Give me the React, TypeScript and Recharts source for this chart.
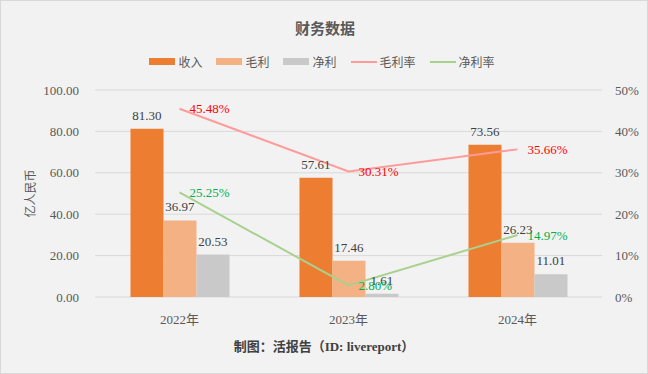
import React from 'react';
import { ComposedChart, Bar, Line, XAxis, YAxis, CartesianGrid, LabelList } from 'recharts';

const categories = ['2022年', '2023年', '2024年'];
const revenue = [81.30, 57.61, 73.56];
const grossProfit = [36.97, 17.46, 26.23];
const netProfit = [20.53, 1.61, 11.01];
const grossMargin = [45.48, 30.31, 35.66];
const netMargin = [25.25, 2.80, 14.97];
const leftTicks = [0, 20, 40, 60, 80, 100];
const rightTicks = [0, 10, 20, 30, 40, 50];

const data = categories.map((c, i) => ({
  name: c,
  revenue: revenue[i],
  gross: grossProfit[i],
  net: netProfit[i],
  gm: grossMargin[i],
  nm: netMargin[i],
}));

const SERIF = '"Liberation Serif", "Noto Sans CJK SC", serif';
const CJK = '"Noto Sans CJK SC", sans-serif';

const legendItems = [
  { label: '收入', color: '#ed7d31', type: 'rect' },
  { label: '毛利', color: '#f4b183', type: 'rect' },
  { label: '净利', color: '#c9c9c9', type: 'rect' },
  { label: '毛利率', color: '#ff9b9b', type: 'line' },
  { label: '净利率', color: '#a9d18e', type: 'line' },
];

const YLabel = (props: any) => {
  const vb = props.viewBox || {};
  const cy = vb.y + vb.height / 2;
  return (
    <text x={29} y={cy} transform={`rotate(-90 29 ${cy})`} textAnchor="middle" dominantBaseline="central"
      fill="#595959" fontSize={12} fontFamily={CJK}>亿人民币</text>
  );
};

export default function App() {
  return (
    <div style={{ position: 'absolute', left: 0, top: 0, width: 648, height: 374, background: '#f2f2f2', border: '1px solid #d9d9d9', boxSizing: 'border-box', overflow: 'hidden' }}>
      <div style={{ position: 'absolute', left: 0, top: 16, width: 648, textAlign: 'center', fontFamily: CJK, fontWeight: 'bold', fontSize: 15, color: '#595959' }}>财务数据</div>
      <div style={{ position: 'absolute', left: 0, top: 52, width: 648, display: 'flex', justifyContent: 'center', fontFamily: CJK, fontSize: 12, color: '#595959', paddingLeft: 8, boxSizing: 'border-box' }}>
        {legendItems.map((it) => (
          <div key={it.label} style={{ display: 'flex', alignItems: 'center', marginRight: 14 }}>
            <span style={{ display: 'inline-block', width: 26, height: it.type === 'rect' ? 7 : 2, background: it.color, marginRight: 3 }} />
            <span>{it.label}</span>
          </div>
        ))}
      </div>
      <div style={{ position: 'absolute', left: 0, top: 335, width: 648, textAlign: 'center', fontFamily: SERIF, fontWeight: 'bold', fontSize: 13, color: '#404040', paddingRight: 2, boxSizing: 'border-box' }}>制图：活报告（ID: livereport）</div>
      <div style={{ position: 'absolute', left: -1, top: -1 }}>
        <ComposedChart width={648} height={374} data={data} margin={{ top: 90, right: 0, left: 0, bottom: 47 }} barCategoryGap="21%" barGap={0}>
          <CartesianGrid vertical={false} stroke="#d9d9d9" yAxisId="left" />
          <XAxis xAxisId="grid" type="number" domain={[0, 3]} ticks={[0, 1, 2, 3]} height={0} tickFormatter={() => ''} tickSize={5} stroke="#d9d9d9" allowDataOverflow />
          <XAxis dataKey="name" axisLine={false} tickLine={false} height={30} tickMargin={12}
            tick={{ fill: '#595959', fontSize: 13, fontFamily: SERIF }} />
          <YAxis yAxisId="left" width={95} domain={[0, 100]} ticks={leftTicks} axisLine={false} tickLine={false} tickSize={6} tickMargin={10}
            tickFormatter={(v: number) => v.toFixed(2)} tick={{ fill: '#595959', fontSize: 13, fontFamily: SERIF }}
            label={<YLabel />} />
          <YAxis yAxisId="right" orientation="right" width={46} domain={[0, 50]} ticks={rightTicks} axisLine={false} tickLine={false} tickSize={6} tickMargin={7}
            tickFormatter={(v: number) => `${v}%`} tick={{ fill: '#595959', fontSize: 13, fontFamily: SERIF }} />
          <Bar yAxisId="left" dataKey="revenue" fill="#ed7d31" isAnimationActive={false}>
            <LabelList dataKey="revenue" position="top" offset={9} formatter={(v: number) => v.toFixed(2)} fill="#404040" fontSize={13} fontFamily={SERIF} />
          </Bar>
          <Bar yAxisId="left" dataKey="gross" fill="#f4b183" isAnimationActive={false}>
            <LabelList dataKey="gross" position="top" offset={9} formatter={(v: number) => v.toFixed(2)} fill="#404040" fontSize={13} fontFamily={SERIF} />
          </Bar>
          <Bar yAxisId="left" dataKey="net" fill="#c9c9c9" isAnimationActive={false}>
            <LabelList dataKey="net" position="top" offset={9} formatter={(v: number) => v.toFixed(2)} fill="#404040" fontSize={13} fontFamily={SERIF} />
          </Bar>
          <Line yAxisId="right" dataKey="gm" stroke="#ff9b9b" strokeWidth={2} dot={false} isAnimationActive={false}>
            <LabelList dataKey="gm" position="right" offset={10} formatter={(v: number) => `${v.toFixed(2)}%`} fill="#ff0000" fontSize={13} fontFamily={SERIF} />
          </Line>
          <Line yAxisId="right" dataKey="nm" stroke="#a9d18e" strokeWidth={2} dot={false} isAnimationActive={false}>
            <LabelList dataKey="nm" position="right" offset={10} formatter={(v: number) => `${v.toFixed(2)}%`} fill="#00b050" fontSize={13} fontFamily={SERIF} />
          </Line>
        </ComposedChart>
      </div>
    </div>
  );
}
